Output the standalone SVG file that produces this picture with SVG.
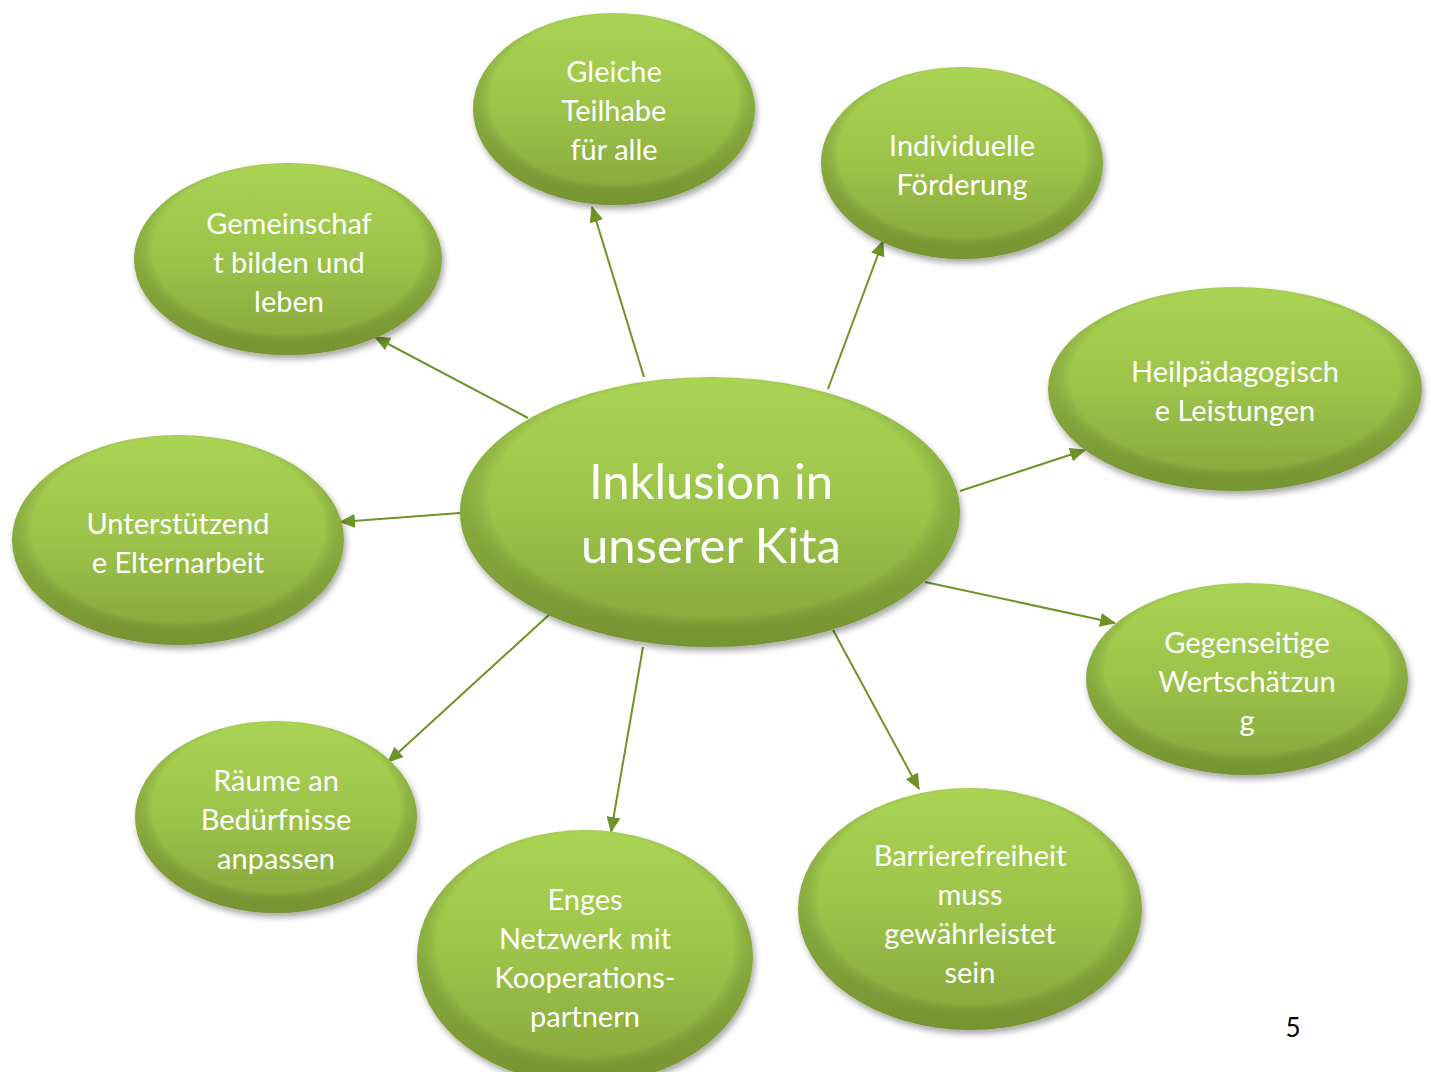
<svg xmlns="http://www.w3.org/2000/svg" width="1431" height="1072" viewBox="0 0 1431 1072">
<defs>
<style>
.n{fill:url(#g);filter:url(#sh)}
.e{fill:url(#hl)}
.t{font-family:Lato,"Liberation Sans",sans-serif;font-size:29px;fill:#ffffff;text-anchor:middle;dominant-baseline:central}
.c{font-size:49px}
.k{stroke:#6e9427;stroke-width:2;fill:none;marker-end:url(#ah)}
</style>
<linearGradient id="g" x1="0" y1="0" x2="0" y2="1">
<stop offset="0" stop-color="#aad454"/>
<stop offset="0.5" stop-color="#9cc34a"/>
<stop offset="1" stop-color="#86a43b"/>
</linearGradient>
<radialGradient id="hl" cx="0.5" cy="0.45" r="0.5">
<stop offset="0.88" stop-color="#000" stop-opacity="0"/>
<stop offset="1" stop-color="#4a6118" stop-opacity="0.25"/>
</radialGradient>
<filter id="sh" x="-10%" y="-10%" width="125%" height="130%">
<feDropShadow dx="2" dy="4" stdDeviation="3" flood-color="#000" flood-opacity="0.35"/>
</filter>
<marker id="ah" markerWidth="16" markerHeight="14" refX="15" refY="7" orient="auto" markerUnits="userSpaceOnUse">
<path d="M0,0 L16,7 L0,14 Z" fill="#6e9427"/>
</marker>
</defs>
<rect width="1431" height="1072" fill="#ffffff"/>
<g id="connectors">
<line class="k" x1="644" y1="377" x2="592" y2="207"/>
<line class="k" x1="828" y1="389" x2="883" y2="241"/>
<line class="k" x1="528" y1="418" x2="375" y2="337"/>
<line class="k" x1="960" y1="491" x2="1085" y2="450"/>
<line class="k" x1="460" y1="513" x2="340" y2="522"/>
<line class="k" x1="925" y1="582" x2="1115" y2="623"/>
<line class="k" x1="551" y1="613" x2="388" y2="762"/>
<line class="k" x1="643" y1="647" x2="611" y2="832"/>
<line class="k" x1="833" y1="630" x2="919" y2="789"/>
</g>
<g id="n-gleiche">
<ellipse class="n" cx="614" cy="109" rx="141" ry="96"/>
<ellipse class="e" cx="614" cy="109" rx="141" ry="96"/>
<text class="t"><tspan x="614" y="70">Gleiche</tspan><tspan x="614" y="109">Teilhabe</tspan><tspan x="614" y="148">für alle</tspan></text>
</g>
<g id="n-individuelle">
<ellipse class="n" cx="962" cy="163" rx="141" ry="96"/>
<ellipse class="e" cx="962" cy="163" rx="141" ry="96"/>
<text class="t"><tspan x="962" y="144">Individuelle</tspan><tspan x="962" y="183">Förderung</tspan></text>
</g>
<g id="n-gemeinschaft">
<ellipse class="n" cx="288" cy="259" rx="154" ry="96"/>
<ellipse class="e" cx="288" cy="259" rx="154" ry="96"/>
<text class="t"><tspan x="289" y="222">Gemeinschaf</tspan><tspan x="289" y="261">t bilden und</tspan><tspan x="289" y="300">leben</tspan></text>
</g>
<g id="n-heil">
<ellipse class="n" cx="1235" cy="389" rx="187" ry="102"/>
<ellipse class="e" cx="1235" cy="389" rx="187" ry="102"/>
<text class="t"><tspan x="1235" y="370">Heilpädagogisch</tspan><tspan x="1235" y="409">e Leistungen</tspan></text>
</g>
<g id="n-eltern">
<ellipse class="n" cx="178" cy="540" rx="166" ry="105"/>
<ellipse class="e" cx="178" cy="540" rx="166" ry="105"/>
<text class="t"><tspan x="178" y="522">Unterstützend</tspan><tspan x="178" y="561">e Elternarbeit</tspan></text>
</g>
<g id="n-center">
<ellipse class="n" cx="710" cy="512" rx="250" ry="135"/>
<ellipse class="e" cx="710" cy="512" rx="250" ry="135"/>
<text class="t c"><tspan x="711" y="480">Inklusion in</tspan><tspan x="711" y="544">unserer Kita</tspan></text>
</g>
<g id="n-wert">
<ellipse class="n" cx="1247" cy="679" rx="161" ry="96"/>
<ellipse class="e" cx="1247" cy="679" rx="161" ry="96"/>
<text class="t"><tspan x="1247" y="641">Gegenseitige</tspan><tspan x="1247" y="680">Wertschätzun</tspan><tspan x="1247" y="719">g</tspan></text>
</g>
<g id="n-raeume">
<ellipse class="n" cx="276" cy="817" rx="141" ry="96"/>
<ellipse class="e" cx="276" cy="817" rx="141" ry="96"/>
<text class="t"><tspan x="276" y="779">Räume an</tspan><tspan x="276" y="818">Bedürfnisse</tspan><tspan x="276" y="857">anpassen</tspan></text>
</g>
<g id="n-netzwerk">
<ellipse class="n" cx="585" cy="957" rx="168" ry="127"/>
<ellipse class="e" cx="585" cy="957" rx="168" ry="127"/>
<text class="t"><tspan x="585" y="898">Enges</tspan><tspan x="585" y="937">Netzwerk mit</tspan><tspan x="585" y="976">Kooperations-</tspan><tspan x="585" y="1015">partnern</tspan></text>
</g>
<g id="n-barriere">
<ellipse class="n" cx="970" cy="909" rx="172" ry="121"/>
<ellipse class="e" cx="970" cy="909" rx="172" ry="121"/>
<text class="t"><tspan x="970" y="854">Barrierefreiheit</tspan><tspan x="970" y="893">muss</tspan><tspan x="970" y="932">gewährleistet</tspan><tspan x="970" y="971">sein</tspan></text>
</g>
<text x="1293" y="1037" font-family="Lato,'Liberation Sans',sans-serif" font-size="26" fill="#000" text-anchor="middle">5</text>
</svg>
